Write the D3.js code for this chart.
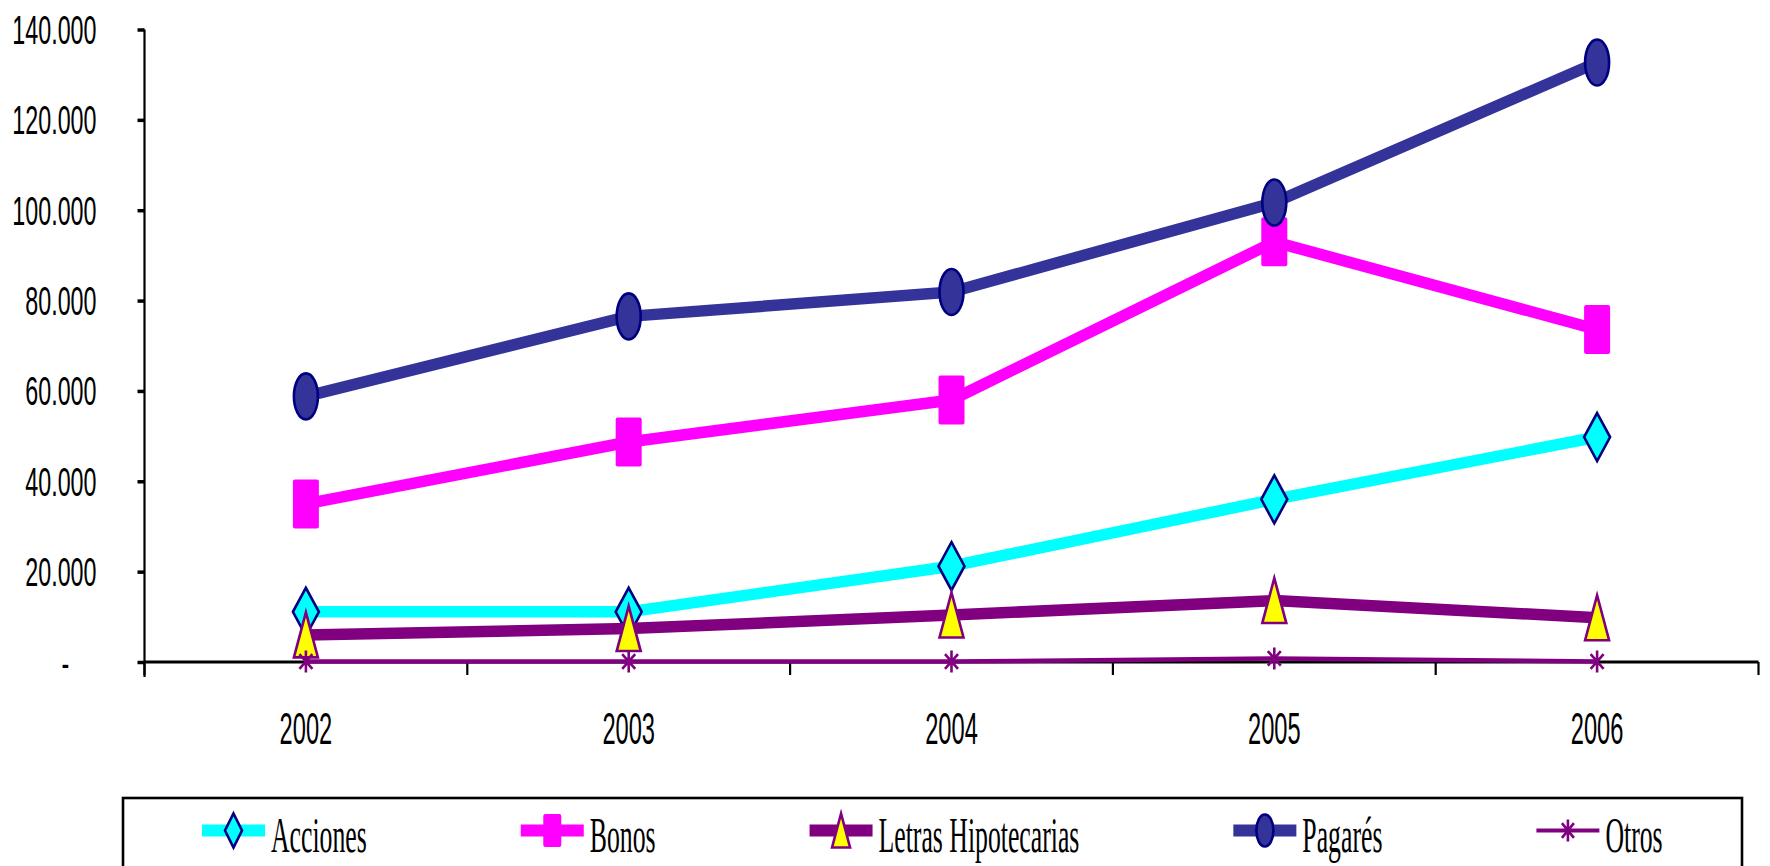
<!DOCTYPE html>
<html>
<head>
<meta charset="utf-8">
<script src="https://cdn.jsdelivr.net/npm/d3@7"></script>
<style>
  html, body { margin: 0; padding: 0; background: #ffffff; overflow: hidden; }
  svg { display: block; }
</style>
</head>
<body>
<svg id="chart" width="1770" height="866"></svg>
<script>
// ---------- DATA ----------
const years = ["2002", "2003", "2004", "2005", "2006"];
const acciones = [11100, 11100, 21200, 36000, 49800];
const bonos = [35000, 48700, 58000, 93000, 73600];
const letras = [6000, 7400, 10400, 13600, 9800];
const pagares = [58800, 76500, 81900, 101700, 132700];
const otros = [100, 100, 100, 800, 100];
const seriesNames = ["Acciones", "Bonos", "Letras Hipotecarias", "Pagarés", "Otros"];
const yTicks = [0, 20000, 40000, 60000, 80000, 100000, 120000, 140000];

// ---------- STYLE ----------
const series = [
  { name: seriesNames[0], values: acciones, line: "#00FFFF", width: 11.5, marker: "diamond", fill: "#00FFFF", stroke: "#000080" },
  { name: seriesNames[1], values: bonos,    line: "#FF00FF", width: 11.5, marker: "square",  fill: "#FF00FF", stroke: "#FF00FF" },
  { name: seriesNames[2], values: letras,   line: "#800080", width: 11.5, marker: "triangle", fill: "#FFFF00", stroke: "#800080" },
  { name: seriesNames[3], values: pagares,  line: "#333399", width: 11.5, marker: "ellipse", fill: "#333399", stroke: "#000080" },
  { name: seriesNames[4], values: otros,    line: "#800080", width: 4.5,  marker: "star",    fill: "none",    stroke: "#800080" }
];

const svg = d3.select("#chart");
svg.append("rect").attr("width", 1770).attr("height", 866).attr("fill", "#fff");

const x = d3.scaleBand().domain(years).range([144.5, 1758.5]).padding(0);
const y = d3.scaleLinear().domain([0, 140000]).range([662, 29.5]);
const cx = d => x(d) + x.bandwidth() / 2;

const sansFont = "'Liberation Sans', Arial, sans-serif";
const serifFont = "'Liberation Serif', 'DejaVu Serif', 'Times New Roman', serif";

// ---------- Y AXIS ----------
const fmt = v => v === 0 ? "-" : d3.format(",")(v).replace(/,/g, ".");
const gy = svg.append("g").attr("transform", "translate(144.5,0)")
  .call(d3.axisLeft(y).tickValues(yTicks).tickSize(7).tickFormat(fmt));
gy.select(".domain").remove();
gy.selectAll(".tick line").attr("stroke", "#000").attr("stroke-width", 3.5);
gy.selectAll(".tick text")
  .attr("x", null).attr("dy", null)
  .attr("fill", "#000")
  .style("font-family", sansFont)
  .style("font-size", "40.5px")
  .attr("text-anchor", d => d === 0 ? "middle" : "end")
  .attr("transform", d => d === 0 ? "translate(-79,14) scale(0.575,1)" : "translate(-48,14) scale(0.575,1)");
svg.append("line").attr("x1", 144.5).attr("x2", 144.5).attr("y1", y(140000)).attr("y2", 677)
  .attr("stroke", "#000").attr("stroke-width", 2.2);

// ---------- X AXIS ----------
const gx = svg.append("g").attr("transform", "translate(0,662)")
  .call(d3.axisBottom(x).tickSize(0).tickFormat(d => d));
gx.select(".domain").remove();
gx.selectAll(".tick text")
  .attr("y", null).attr("dy", null)
  .attr("fill", "#000")
  .style("font-family", sansFont)
  .style("font-size", "43.7px")
  .attr("text-anchor", "middle")
  .attr("transform", "translate(0,82) scale(0.542,1)");
svg.append("line").attr("x1", x.range()[0]).attr("x2", x.range()[1]).attr("y1", 662).attr("y2", 662)
  .attr("stroke", "#000").attr("stroke-width", 3);
const boundaries = years.map(d => x(d)).concat([x.range()[1]]);
svg.append("g").selectAll("line").data(boundaries).join("line")
  .attr("x1", d => d).attr("x2", d => d).attr("y1", 662).attr("y2", 675)
  .attr("stroke", "#000").attr("stroke-width", 2.2);

// ---------- MARKERS ----------
function drawMarker(g, type, s, w, h) {
  if (type === "diamond") {
    const p = d3.path();
    p.moveTo(0, -h / 2); p.lineTo(w / 2, 0); p.lineTo(0, h / 2); p.lineTo(-w / 2, 0); p.closePath();
    g.append("path").attr("d", p.toString()).attr("fill", s.fill).attr("stroke", s.stroke).attr("stroke-width", 2.6);
  } else if (type === "square") {
    g.append("rect").attr("x", -w / 2).attr("y", -h / 2).attr("width", w).attr("height", h)
      .attr("rx", 2).attr("fill", s.fill);
  } else if (type === "triangle") {
    const p = d3.path();
    p.moveTo(0, -h / 2); p.lineTo(w / 2, h / 2); p.lineTo(-w / 2, h / 2); p.closePath();
    g.append("path").attr("d", p.toString()).attr("fill", s.fill).attr("stroke", s.stroke)
      .attr("stroke-width", 2.6).attr("stroke-linejoin", "miter");
  } else if (type === "ellipse") {
    g.append("ellipse").attr("rx", w / 2).attr("ry", h / 2).attr("fill", s.fill)
      .attr("stroke", s.stroke).attr("stroke-width", 2.6);
  } else if (type === "star") {
    const p = d3.path();
    p.moveTo(0, -h / 2); p.lineTo(0, h / 2);
    p.moveTo(-w / 2, -h / 3); p.lineTo(w / 2, h / 3);
    p.moveTo(w / 2, -h / 3); p.lineTo(-w / 2, h / 3);
    g.append("path").attr("d", p.toString()).attr("fill", "none").attr("stroke", s.stroke).attr("stroke-width", 2.6);
  }
}
const chartSize = {
  diamond: [26, 48], square: [26, 49], triangle: [24, 45], ellipse: [24, 46], star: [13, 22]
};
const legendSize = {
  diamond: [17, 34], square: [18, 33], triangle: [18, 34], ellipse: [17, 32], star: [12, 22]
};

// ---------- SERIES ----------
const line = d3.line().x((v, i) => cx(years[i])).y(v => y(v));
series.forEach(s => {
  const g = svg.append("g");
  g.append("path").datum(s.values).attr("d", line)
    .attr("fill", "none").attr("stroke", s.line).attr("stroke-width", s.width)
    .attr("stroke-linejoin", "round").attr("stroke-linecap", "butt");
  s.values.forEach((v, i) => {
    const m = g.append("g").attr("transform", `translate(${cx(years[i])},${y(v)})`);
    drawMarker(m, s.marker, s, chartSize[s.marker][0], chartSize[s.marker][1]);
  });
});

// ---------- LEGEND ----------
const lg = svg.append("g");
lg.append("rect").attr("x", 123).attr("y", 798).attr("width", 1619).attr("height", 120)
  .attr("fill", "#fff").attr("stroke", "#000").attr("stroke-width", 2.6);
let lx = 202;
const legY = 830.5;
series.forEach(s => {
  const it = lg.append("g");
  it.append("line").attr("x1", lx).attr("x2", lx + 63).attr("y1", legY).attr("y2", legY)
    .attr("stroke", s.line).attr("stroke-width", s.marker === "star" ? 4 : 12);
  const m = it.append("g").attr("transform", `translate(${lx + 31.5},${legY})`);
  drawMarker(m, s.marker, s, legendSize[s.marker][0], legendSize[s.marker][1]);
  const tx = lx + 69;
  const t = it.append("text").text(s.name)
    .attr("text-anchor", "start")
    .attr("fill", "#000")
    .attr("font-family", serifFont)
    .attr("font-size", 50)
    .attr("transform", `translate(${tx},852) scale(0.515,1)`);
  const tw = t.node().getComputedTextLength() * 0.515;
  lx = tx + tw + 154;
});
</script>
</body>
</html>
